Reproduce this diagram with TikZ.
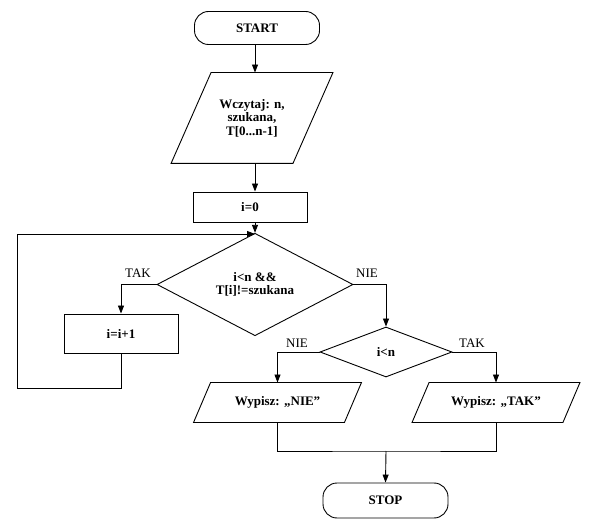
\documentclass[tikz,border=0pt]{standalone}
\usepackage{fontspec}
\setmainfont{Liberation Serif}
\usetikzlibrary{shapes.geometric,arrows.meta,calc}
\newcommand\paragram[2]{\draw[line width=0.9pt] ([xshift=-#2]#1.south west) -- ([xshift=-#2]#1.south east) -- ([xshift=#2]#1.north east) -- ([xshift=#2]#1.north west) -- cycle;}
\begin{document}
\begin{tikzpicture}[x=1pt,y=-1pt,
  line width=0.9pt,
  txt/.style={font=\fontsize{13}{13.5}\selectfont\bfseries, align=center, inner sep=0pt},
  term/.style={txt, draw, rounded corners=14pt, minimum width=125pt, minimum height=33pt},
  proc/.style={txt, draw, minimum width=114pt},
  io/.style={txt, minimum width=150pt, minimum height=39pt},
  dec/.style={txt, draw, diamond},
  lbl/.style={font=\fontsize{13}{13.5}\selectfont, inner sep=0pt},
  arr/.style={-{Triangle[length=8pt,width=6pt]}}
]
\useasboundingbox (0,0) rectangle (589,526);
\node[term] (start) at (257,28) {START};
\node[txt, minimum width=121pt, minimum height=90pt] (read) at (252,118) {Wczytaj: n,\\ szukana,\\ T[0...n-1]};
\paragram{read}{20pt}
\node[proc, minimum height=30pt] (init) at (250,207) {i=0};
\node[dec, minimum width=196pt, minimum height=75pt] (d1) at (255,284.5) {i<n \&\&\\ T[i]!=szukana};
\node[proc, minimum height=39pt] (inc) at (121,333.5) {i=i+1};
\node[dec, minimum width=132pt, minimum height=50pt] (d2) at (386,352) {i<n};
\node[io] (outN) at (277.5,402.5) {Wypisz: „NIE”};
\paragram{outN}{8.5pt}
\node[io] (outT) at (496,402.5) {Wypisz: „TAK”};
\paragram{outT}{8.5pt}
\node[term, minimum height=35pt] (stop) at (385.5,500.5) {STOP};

\node[lbl] (ltak1) at (138,273) {TAK};
\node[lbl] (lnie1) at (367,273) {NIE};
\node[lbl] (lnie2) at (297,343) {NIE};
\node[lbl] (ltak2) at (472,343) {TAK};

\coordinate (j) at (255,234);
\coordinate (lb) at (17,388);
\coordinate (m) at (386,451);

\draw[arr] (start.south -| d1.north) -- (read.north -| d1.north);
\draw[arr] (read.south -| d1.north) -- (init.north -| d1.north);
\draw[arr] (init.south -| d1.north) -- (d1.north);
\draw[arr] (inc.south) |- (lb) |- (j);
\draw[arr] (d1.west) -| (inc.north);
\draw[arr] (d1.east) -| (d2.north);
\draw[arr] (d2.west) -| (outN.north);
\draw[arr] (d2.east) -| (outT.north);
\draw (outN.south) |- (m) -| (outT.south);
\draw[arr] (m) -- (stop.north);
\end{tikzpicture}
\end{document}
